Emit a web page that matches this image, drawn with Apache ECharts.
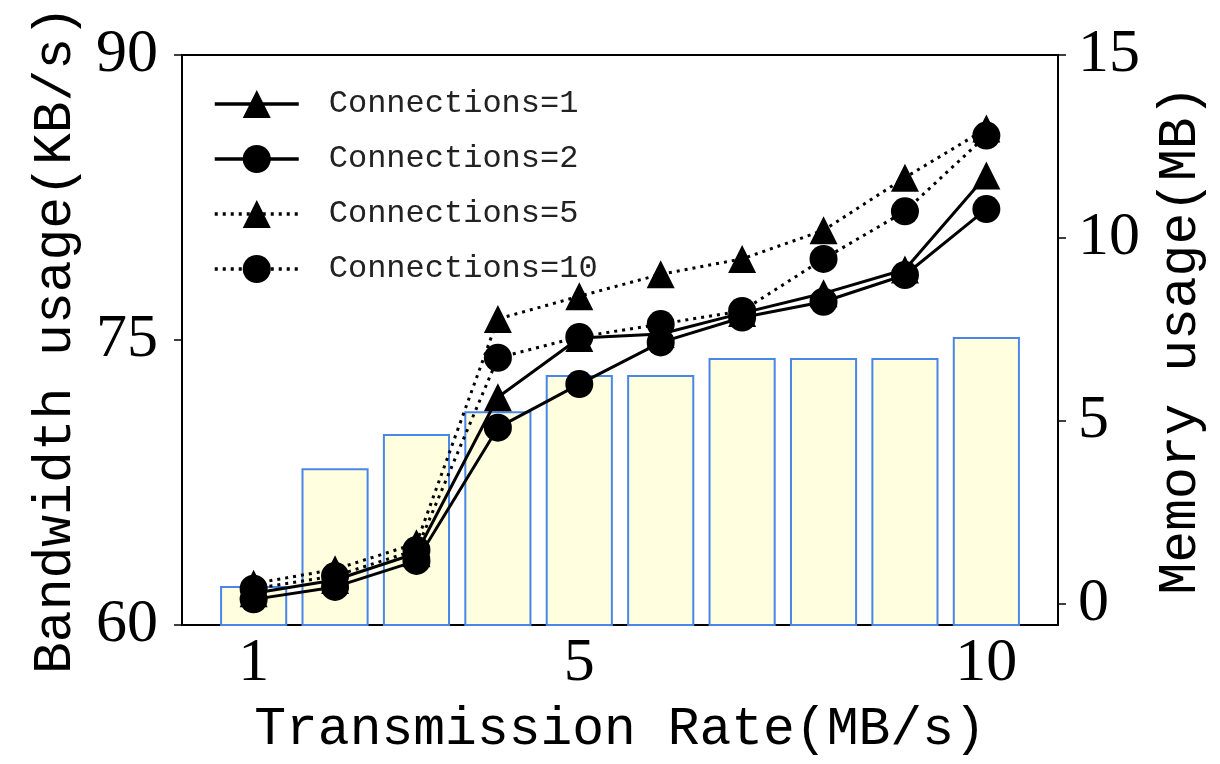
<!DOCTYPE html>
<html>
<head>
<meta charset="utf-8">
<script src="https://cdn.jsdelivr.net/npm/echarts@6/dist/echarts.min.js"></script>
<style>
  html, body { margin: 0; padding: 0; background: #ffffff; }
  #chart { width: 1220px; height: 764px; }
</style>
</head>
<body>
<div id="chart"></div>
<script>
// Transmission rate (MB/s) on the x axis
const rates = [1, 2, 3, 4, 5, 6, 7, 8, 9, 10];

// Bandwidth usage (KB/s), drawn as bars on the left axis
const bandwidth = [62.0, 68.2, 70.0, 71.2, 73.1, 73.1, 74.0, 74.0, 74.0, 75.1];

// Memory usage (MB) per number of connections, right axis
const memConn1  = [0.30, 0.66, 1.39, 5.65, 7.27, 7.38, 7.95, 8.49, 9.14, 11.71];
const memConn2  = [0.13, 0.47, 1.18, 4.82, 6.01, 7.15, 7.83, 8.26, 8.99, 10.79];
const memConn5  = [0.56, 0.95, 1.66, 7.79, 8.41, 9.01, 9.43, 10.21, 11.65, 12.99];
const memConn10 = [0.42, 0.77, 1.48, 6.73, 7.30, 7.65, 8.01, 9.43, 10.73, 12.80];

const seriesNames = ['Connections=1', 'Connections=2', 'Connections=5', 'Connections=10'];

// Tick labels
const xTicks = [1, 5, 10];
const leftTicks = [60, 75, 90];
const rightTicks = [0, 5, 10, 15];

const BAR_WIDTH = 0.8;            // bar width in x-axis units
const INK = '#000000';
const LABEL_FONT = 'Liberation Serif';
const TEXT_FONT = 'Liberation Mono';

const pairs = (ys) => rates.map((x, i) => [x, ys[i]]);

const lineSeries = (name, ys, symbol, dotted) => ({
  name: name,
  type: 'line',
  xAxisIndex: 0,
  yAxisIndex: 1,
  data: pairs(ys),
  symbol: symbol,
  symbolSize: 28,
  showSymbol: true,
  itemStyle: { color: INK },
  lineStyle: {
    color: INK,
    width: 3,
    type: dotted ? [3, 5] : 'solid',
    cap: 'butt'
  },
  emphasis: { disabled: true },
  z: 5
});

const chart = echarts.init(document.getElementById('chart'), null, { renderer: 'canvas' });

chart.setOption({
  animation: false,
  backgroundColor: '#ffffff',
  grid: {
    left: 182, right: 162, top: 55, bottom: 139,
    show: true, borderColor: INK, borderWidth: 2,
    containLabel: false, outerBoundsMode: 'none'
  },
  legend: {
    data: seriesNames,
    orient: 'vertical',
    left: 213, top: 88,
    padding: 0,
    itemWidth: 84, itemHeight: 35, itemGap: 23,
    lineStyle: { width: 3.5 },
    textStyle: { fontFamily: TEXT_FONT, fontSize: 32, color: '#222222', padding: [0, 0, 0, 25] },
    selectedMode: false
  },
  xAxis: {
    type: 'value',
    min: 0.12, max: 10.88,
    name: 'Transmission Rate(MB/s)',
    nameLocation: 'middle',
    nameGap: 78,
    nameTextStyle: { fontFamily: TEXT_FONT, fontSize: 53, color: INK },
    axisLine: { show: true, onZero: false, lineStyle: { color: INK, width: 2 } },
    axisTick: { show: true, inside: true, length: 8, customValues: xTicks, lineStyle: { color: INK, width: 1.5 } },
    axisLabel: { customValues: xTicks, fontFamily: LABEL_FONT, fontSize: 62, color: INK, margin: 8 },
    splitLine: { show: false }
  },
  yAxis: [
    {
      type: 'value',
      position: 'left',
      min: 60, max: 90, interval: 15,
      name: 'Bandwidth usage(KB/s)',
      nameLocation: 'middle',
      nameRotate: 90,
      nameGap: 100,
      nameTextStyle: { fontFamily: TEXT_FONT, fontSize: 53, color: INK },
      axisLine: { show: true, onZero: false, lineStyle: { color: INK, width: 2 } },
      axisTick: { show: true, inside: false, length: 8, customValues: leftTicks, lineStyle: { color: INK, width: 1.5 } },
      axisLabel: { customValues: leftTicks, fontFamily: LABEL_FONT, fontSize: 62, color: INK, margin: 24 },
      splitLine: { show: false }
    },
    {
      type: 'value',
      position: 'right',
      min: -0.57, max: 15,
      name: 'Memory usage(MB)',
      nameLocation: 'middle',
      nameRotate: 90,
      nameGap: 96,
      nameTextStyle: { fontFamily: TEXT_FONT, fontSize: 53, color: INK },
      axisLine: { show: true, onZero: false, lineStyle: { color: INK, width: 2 } },
      axisTick: { show: true, inside: false, length: 8, customValues: rightTicks, lineStyle: { color: INK, width: 1.5 } },
      axisLabel: { customValues: rightTicks, fontFamily: LABEL_FONT, fontSize: 62, color: INK, margin: 20 },
      splitLine: { show: false }
    }
  ],
  series: [
    {
      name: 'Bandwidth',
      type: 'custom',
      xAxisIndex: 0,
      yAxisIndex: 0,
      data: pairs(bandwidth),
      z: 2,
      renderItem: function (params, api) {
        const x = api.value(0);
        const v = api.value(1);
        const top = api.coord([x, v]);
        const base = api.coord([x, 60]);
        const w = api.size([BAR_WIDTH, 0])[0];
        return {
          type: 'rect',
          shape: { x: top[0] - w / 2, y: top[1], width: w, height: base[1] - top[1] },
          style: { fill: '#ffffe0', stroke: '#4a86e8', lineWidth: 2 }
        };
      }
    },
    lineSeries(seriesNames[0], memConn1, 'triangle', false),
    lineSeries(seriesNames[1], memConn2, 'circle', false),
    lineSeries(seriesNames[2], memConn5, 'triangle', true),
    lineSeries(seriesNames[3], memConn10, 'circle', true)
  ]
});
</script>
</body>
</html>
